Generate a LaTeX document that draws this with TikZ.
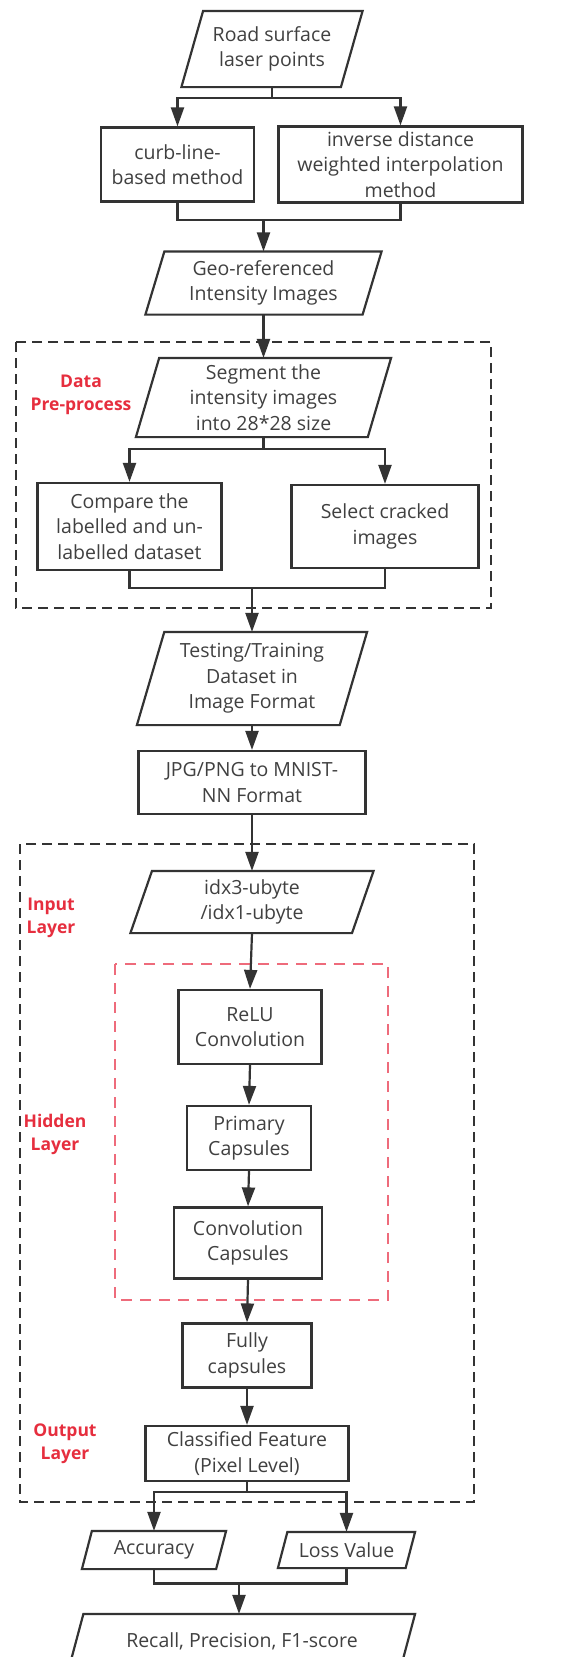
\documentclass[tikz,border=0pt]{standalone}
\usepackage{fontspec}
\setmainfont{Open Sans}
\usetikzlibrary{arrows.meta}
\definecolor{ink}{HTML}{333333}
\definecolor{txt}{HTML}{404040}
\definecolor{lblred}{HTML}{E62E3E}
\definecolor{hidred}{HTML}{EE6B7B}
\begin{document}
\begin{tikzpicture}[
    x=1pt, y=-1pt,
    box/.style={draw=ink, line width=2.2pt, rectangle, align=center, inner sep=0pt, text=txt, fill=white, font=\fontsize{19.5}{25.5}\selectfont},
    para/.style={box, draw=none, fill=none, append after command={\pgfextra{
        \draw[ink, line width=2.2pt] ([xshift=#1]\tikzlastnode.north west) -- (\tikzlastnode.north east)
            -- ([xshift=-#1]\tikzlastnode.south east) -- (\tikzlastnode.south west) -- cycle;}}},
    lbl/.style={align=center, text=lblred, font=\fontsize{17.5}{22.5}\selectfont\bfseries},
    frame/.style={draw=ink, line width=2pt, dash pattern=on 10pt off 6pt},
    hidframe/.style={draw=hidred, line width=2pt, dash pattern=on 11pt off 8pt},
    link/.style={draw=ink, line width=2.2pt},
    arr/.style={link, -{Triangle[length=19pt, width=13pt]}}
]
\useasboundingbox (0,0) rectangle (570,1657);

% Acquisition
\node[para=21.7pt, minimum width=179, minimum height=74] (road) at (272,49) {Road surface\\laser points};
\node[box, minimum width=153, minimum height=74] (curb) at (177.5,164.5) {curb-line-\\based method};
\node[box, minimum width=244, minimum height=76] (inv) at (400.5,164.5) {inverse distance\\weighted interpolation\\method};
\node[para=19pt, minimum width=234, minimum height=61] (geo) at (263.5,283) {Geo-referenced\\Intensity Images};

% Pre-process
\draw[frame] (16,342) rectangle (491,608);
\node[lbl] (prelbl) at (81,395) {Data\\Pre-process};
\node[para=23.3pt, minimum width=253, minimum height=77] (seg) at (263.5,397.5) {Segment the\\intensity images\\into 28*28 size};
\node[box, minimum width=184, minimum height=87] (cmp) at (129.5,526.5) {Compare the\\labelled and un-\\labelled dataset};
\node[box, minimum width=187, minimum height=83] (sel) at (385,526.5) {Select cracked\\images};

% Dataset
\node[para=27.4pt, minimum width=228, minimum height=91] (test) at (252,678.5) {Testing/Training\\Dataset in\\Image Format};
\node[box, minimum width=227, minimum height=63] (jpg) at (252,782.5) {JPG/PNG to MNIST-\\NN Format};

% Network
\draw[frame] (20,844) rectangle (474,1502);
\draw[hidframe] (115,964) rectangle (388,1300);
\node[lbl] (inlbl) at (51,918) {Input\\Layer};
\node[lbl] (hidlbl) at (55,1134.5) {Hidden\\Layer};
\node[lbl] (outlbl) at (65,1443.5) {Output\\Layer};
\node[para=21.6pt, minimum width=241, minimum height=60] (idx) at (252,902) {idx3-ubyte\\/idx1-ubyte};
\node[box, minimum width=143, minimum height=74] (relu) at (250,1027) {ReLU\\Convolution};
\node[box, minimum width=124, minimum height=64] (prim) at (249,1138) {Primary\\Capsules};
\node[box, minimum width=148, minimum height=71] (ccap) at (248,1243) {Convolution\\Capsules};
\node[box, minimum width=129, minimum height=64] (fully) at (247,1355.5) {Fully\\capsules};
\node[box, minimum width=203, minimum height=55] (cls) at (247,1453.5) {Classified Feature\\(Pixel Level)};

% Evaluation
\node[para=10pt, minimum width=142, minimum height=36] (acc) at (154,1550) {Accuracy};
\node[para=9.5pt, minimum width=135, minimum height=34] (loss) at (346.5,1550) {Loss Value};
\node[para=14.5pt, minimum width=344, minimum height=52] (rec) at (242,1641) {Recall, Precision, F1-score};

% Connectors
\coordinate (f1) at (272,98);
\coordinate (m1) at (263.5,220);
\coordinate (f2) at (263.5,449);
\coordinate (m2) at (252,588);
\coordinate (f3) at (247,1492);
\coordinate (m3) at (239,1583.5);

\draw[link] (road.south) -- (f1);
\draw[arr] (f1) -| (curb.north);
\draw[arr] (f1) -| (inv.north);
\draw[link] (curb.south) |- (m1) -| (inv.south);
\draw[arr] (m1) -- (geo.north);
\draw[arr] (geo.south) -- (seg.north);
\draw[link] (seg.south) -- (f2);
\draw[arr] (f2) -| (cmp.north);
\draw[arr] (f2) -| (sel.north);
\draw[link] (cmp.south) |- (m2) -| (sel.south);
\draw[arr] (m2) -- (test.north);
\draw[arr] (test.south) -- (jpg.north);
\draw[arr] (jpg.south) -- (idx.north);
\draw[arr] (idx.south) -- (relu.north);
\draw[arr] (relu.south) -- (prim.north);
\draw[arr] (prim.south) -- (ccap.north);
\draw[arr] (ccap.south) -- (fully.north);
\draw[arr] (fully.south) -- (cls.north);
\draw[link] (cls.south) -- (f3);
\draw[arr] (f3) -| (acc.north);
\draw[arr] (f3) -| (loss.north);
\draw[link] (acc.south) |- (m3) -| (loss.south);
\draw[arr] (m3) -- (m3 |- rec.north);
\end{tikzpicture}
\end{document}
